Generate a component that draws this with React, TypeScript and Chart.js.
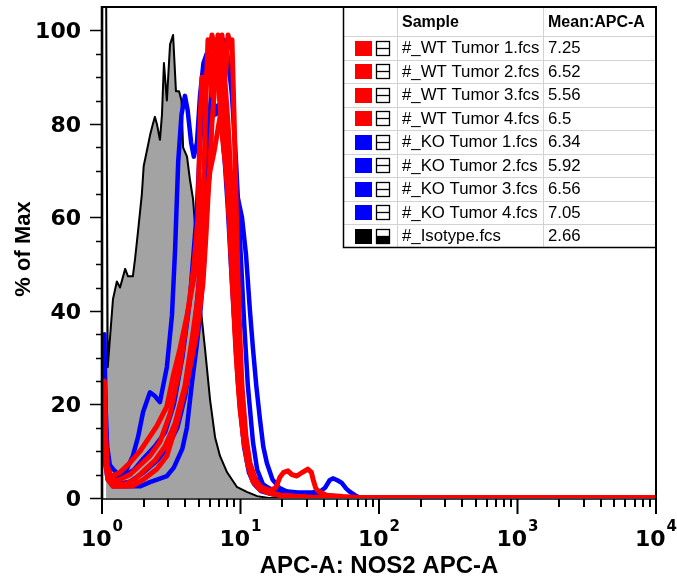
import { useEffect, useRef } from 'react';
import { Chart, registerables } from 'chart.js';

Chart.register(...registerables);

const FONT = '"Liberation Sans", Arial, Helvetica, sans-serif';
const TICKFONT = '"DejaVu Sans", "Liberation Sans", Arial, sans-serif';

// ---------- legend table ----------
const sampleNames = [
  '#_WT Tumor 1.fcs',
  '#_WT Tumor 2.fcs',
  '#_WT Tumor 3.fcs',
  '#_WT Tumor 4.fcs',
  '#_KO Tumor 1.fcs',
  '#_KO Tumor 2.fcs',
  '#_KO Tumor 3.fcs',
  '#_KO Tumor 4.fcs',
  '#_Isotype.fcs',
];
const meanLabels = ['7.25', '6.52', '5.56', '6.5', '6.34', '5.92', '6.56', '7.05', '2.66'];
const headerSample = 'Sample';
const headerMean = 'Mean:APC-A';

// ---------- axes ----------
const yTickValues = [0, 20, 40, 60, 80, 100];
const xDecades = [1, 10, 100, 1000, 10000];
const xDecadeExponents = ['0', '1', '2', '3', '4'];
const xTitle = 'APC-A: NOS2 APC-A';
const yTitle = '% of Max';

// ---------- series (x = APC-A intensity, y = % of max) ----------
const wt1X = [1.04, 1.06, 1.1, 1.2, 1.47, 1.73, 2.04, 2.41, 2.85, 3.37, 3.97, 4.47, 4.93, 5.27, 5.63, 6.03, 6.44, 6.88, 7.35, 7.86, 8.13, 8.4, 8.68, 8.98, 9.28, 9.59, 9.92, 10.25, 10.96, 11.7, 12.9, 14, 16.3, 18, 19.3, 20.5, 22, 23.5, 25.5, 28, 30.6, 32.5, 33.4, 35, 37.5, 42, 55, 80, 10000];
const wt1Y = [22, 9, 5, 3, 3, 4, 6, 8, 11, 16, 24, 34, 43, 55, 63, 70, 74, 79, 84, 92, 99, 97, 98, 82, 64, 47, 34, 24, 13, 7.5, 3.8, 2.4, 1.6, 2.2, 4.5, 5.5, 5.8, 5, 4.7, 5.5, 6.2, 5.5, 4, 2, 1.2, 0.6, 0.3, 0, 0];

const wt2X = [1.04, 1.06, 1.09, 1.15, 1.3, 1.59, 1.88, 2.22, 2.62, 3.1, 3.66, 4.18, 4.62, 4.93, 5.1, 5.27, 5.45, 5.82, 6.22, 6.44, 6.65, 6.88, 7.11, 7.35, 7.6, 7.86, 8.13, 8.4, 8.68, 8.98, 9.28, 9.59, 9.92, 10.6, 11.3, 12.3, 13.8, 16.3, 20, 30, 50, 10000];
const wt2Y = [24, 12, 6, 4, 3.8, 5, 7, 9, 12, 18, 28, 40, 50, 60, 80, 90, 88, 92, 99, 97, 95, 99, 92, 86, 80, 73, 65, 56, 47, 39, 31, 25, 20, 12, 7.5, 4, 2, 1, 0.5, 0.2, 0, 0];

const wt3X = [1.04, 1.06, 1.09, 1.14, 1.2, 1.35, 1.59, 1.88, 2.22, 2.49, 2.94, 3.26, 3.66, 4.11, 4.54, 5.1, 5.45, 5.63, 5.82, 6.03, 6.22, 6.44, 6.65, 6.88, 7.11, 7.35, 7.6, 7.86, 8.13, 8.4, 8.68, 8.98, 9.28, 9.59, 9.92, 10.6, 11.3, 12.3, 13.8, 16.3, 19.3, 25, 35, 10000];
const wt3Y = [25, 14, 7, 5, 4.7, 5.5, 7.5, 10, 13.2, 15.4, 19.6, 26, 32, 39, 46, 53, 70, 85, 98, 96, 86, 92, 97, 90, 84, 78, 74, 70, 64, 57, 50, 40, 32, 25, 19, 12, 7, 3.5, 1.8, 1, 0.6, 0.3, 0, 0];

const wt4X = [1.04, 1.06, 1.1, 1.2, 1.47, 1.67, 2.0, 2.49, 2.94, 3.48, 4.11, 4.85, 5.36, 5.63, 5.82, 6.03, 6.22, 6.44, 6.65, 6.88, 7.11, 7.35, 7.6, 7.86, 8.13, 8.4, 8.68, 8.98, 9.28, 9.59, 9.92, 10.6, 11.3, 12.3, 13.8, 16.3, 19.3, 25, 40, 10000];
const wt4Y = [20, 8, 4, 2.5, 2.5, 2.6, 4, 6.2, 9, 16.2, 24.8, 35.4, 46, 56, 64, 72, 80, 86, 92, 98, 97, 99, 92, 86, 80, 72, 62, 52, 43, 35, 27, 16, 9, 4.5, 2.2, 1.2, 0.6, 0.3, 0, 0];

const ko1X = [1.04, 1.06, 1.09, 1.14, 1.25, 1.4, 1.7, 2.0, 2.4, 2.85, 3.3, 3.8, 4.3, 4.8, 5.1, 5.45, 5.82, 6.2, 6.65, 7.11, 7.6, 8.13, 8.68, 9.28, 9.92, 10.6, 11.3, 12.3, 13.8, 16.3, 20, 26, 33, 38, 40.8, 44, 46.5, 50, 54, 58, 61.8, 67, 72, 100, 10000];
const ko1Y = [30, 15, 8, 5, 4, 4.5, 6, 8.5, 11, 14, 20, 30, 42, 60, 75, 90, 95, 92, 97, 93, 84, 70, 54, 38, 25, 15, 9, 5, 3, 2, 1.5, 1.2, 1.2, 1.5, 2.2, 3.8, 4.2, 3.8, 3.2, 2, 1.3, 0.6, 0.1, 0, 0];

const ko2X = [1.04, 1.06, 1.09, 1.14, 1.2, 1.35, 1.5, 1.67, 1.82, 1.98, 2.22, 2.41, 2.62, 2.94, 3.2, 3.37, 3.55, 3.75, 3.97, 4.15, 4.4, 4.6, 4.85, 5.1, 5.4, 5.7, 6.0, 6.3, 6.6, 6.9, 7.3, 7.7, 8.1, 8.6, 9.2, 9.9, 10.6, 11.5, 12.5, 14, 17, 22, 30, 10000];
const ko2Y = [35, 20, 11, 7, 6.2, 4.7, 6, 9, 13, 18.4, 22.6, 21.8, 20.5, 28, 39, 53, 72, 82, 86, 83, 76, 73, 76, 86, 93, 95, 92, 86, 82, 84, 80, 72, 62, 48, 34, 20, 11, 5.5, 3, 1.5, 0.8, 0.3, 0, 0];

const ko3X = [1.04, 1.06, 1.09, 1.14, 1.3, 1.6, 2.0, 2.5, 3.0, 3.5, 4.0, 4.5, 5.0, 5.45, 5.82, 6.22, 6.65, 7.11, 7.6, 8.13, 8.68, 9.28, 9.92, 10.6, 11.3, 12.3, 13.2, 14.5, 17, 22, 30, 45, 10000];
const ko3Y = [28, 14, 7, 4, 3, 3.5, 5.5, 8, 11, 15, 22, 32, 46, 62, 78, 88, 90, 96, 98, 94, 86, 72, 55, 38, 24, 12, 6, 3, 1.5, 0.8, 0.4, 0, 0];

const ko4X = [1.04, 1.06, 1.1, 1.2, 1.5, 1.9, 2.22, 2.94, 3.3, 3.8, 4.1, 4.47, 4.8, 5.1, 5.45, 5.82, 6.22, 6.65, 7.0, 7.35, 7.6, 7.86, 8.13, 8.4, 8.98, 9.59, 10.25, 10.96, 11.7, 12.3, 13.0, 13.8, 14.6, 15.5, 17, 19, 22, 28, 40, 60, 10000];
const ko4Y = [15, 7, 4, 2.5, 2.5, 2.5, 3.4, 4.7, 6.5, 10.5, 15, 24.8, 32, 39, 50, 65, 82, 95, 97, 85, 74, 72, 71, 70, 67, 64, 60, 52, 40, 32, 24, 17, 11, 7.5, 4, 2.2, 1.3, 0.8, 0.3, 0, 0];

const isoX = [1.07, 1.1, 1.2, 1.28, 1.35, 1.47, 1.54, 1.67, 1.73, 1.82, 1.94, 2.0, 2.1, 2.22, 2.33, 2.41, 2.49, 2.62, 2.71, 2.8, 2.94, 3.1, 3.26, 3.42, 3.6, 3.75, 3.85, 4.11, 4.32, 4.54, 4.85, 5.1, 5.54, 6.03, 6.55, 7.11, 8.0, 9.4, 11.1, 13.2, 16, 10000];
const isoY = [112, 28, 42.5, 46.3, 45, 49, 47.4, 47.4, 51, 57, 65, 71, 74, 77.5, 80, 81.5, 80, 76.6, 82, 93, 85, 97, 99, 87, 87, 85, 75, 73, 68, 64, 53, 42, 32, 21, 13, 9, 5.5, 2.4, 1.3, 0.4, 0, 0];

const RED = '#ff0000';
const BLUE = '#0000ff';
const BLACK = '#000000';
const GRAY = '#a3a3a3';

const seriesX = [wt1X, wt2X, wt3X, wt4X, ko1X, ko2X, ko3X, ko4X, isoX];
const seriesY = [wt1Y, wt2Y, wt3Y, wt4Y, ko1Y, ko2Y, ko3Y, ko4Y, isoY];
const seriesColor = [RED, RED, RED, RED, BLUE, BLUE, BLUE, BLUE, BLACK];

function toPoints(xs: number[], ys: number[]) {
  return xs.map((x, i) => ({ x, y: ys[i] }));
}

const flowPlugin = {
  id: 'flowFrame',
  afterDraw(chart: any) {
    const ctx: CanvasRenderingContext2D = chart.ctx;
    const a = chart.chartArea;
    const xs = chart.scales.x;
    const ys = chart.scales.y;
    ctx.save();

    // ----- legend table -----
    const L = 343;
    const R = a.right;
    const T = a.top;
    const headH = 29;
    const rowH = 23.5;
    const c1 = 397;
    const c2 = 543;
    const n = sampleNames.length;
    const B = T + headH + rowH * n;
    ctx.fillStyle = '#ffffff';
    ctx.fillRect(L, T, R - L, B - T);
    ctx.strokeStyle = '#d2d2d2';
    ctx.lineWidth = 1;
    ctx.beginPath();
    for (let i = 0; i < n; i++) {
      const y = Math.round(T + headH + rowH * i) + 0.5;
      ctx.moveTo(L, y);
      ctx.lineTo(R, y);
    }
    ctx.moveTo(c1 + 0.5, T);
    ctx.lineTo(c1 + 0.5, B);
    ctx.moveTo(c2 + 0.5, T);
    ctx.lineTo(c2 + 0.5, B);
    ctx.stroke();

    ctx.textBaseline = 'middle';
    ctx.textAlign = 'left';
    ctx.fillStyle = '#000';
    ctx.font = `bold 16px ${FONT}`;
    ctx.fillText(headerSample, 402, T + headH / 2 + 1);
    ctx.fillText(headerMean, 548, T + headH / 2 + 1);
    ctx.font = `16.8px ${FONT}`;
    for (let i = 0; i < n; i++) {
      const yc = T + headH + rowH * (i + 0.5);
      const col = seriesColor[i];
      ctx.fillStyle = col;
      ctx.fillRect(355, Math.round(yc - 7), 17, 15);
      ctx.fillStyle = '#fff';
      ctx.fillRect(376, Math.round(yc - 7), 14, 15);
      if (i === n - 1) {
        ctx.fillStyle = '#000';
        ctx.fillRect(376, Math.round(yc), 14, 8);
      }
      ctx.strokeStyle = '#000';
      ctx.lineWidth = 1.3;
      ctx.strokeRect(376.5, Math.round(yc - 7) + 0.5, 13, 14);
      ctx.beginPath();
      ctx.moveTo(376.5, Math.round(yc) + 0.5);
      ctx.lineTo(389.5, Math.round(yc) + 0.5);
      ctx.stroke();
      ctx.fillStyle = '#000';
      ctx.fillText(sampleNames[i], 402, yc + 1);
      ctx.fillText(meanLabels[i], 548, yc + 1);
    }
    ctx.strokeStyle = '#000';
    ctx.lineWidth = 1.5;
    ctx.beginPath();
    ctx.moveTo(L + 0.5, T);
    ctx.lineTo(L + 0.5, B);
    ctx.lineTo(R, B);
    ctx.stroke();

    // ----- frame -----
    ctx.strokeStyle = '#000';
    ctx.lineWidth = 2;
    ctx.beginPath();
    ctx.moveTo(a.right, a.bottom + 1);
    ctx.lineTo(a.right, a.top);
    ctx.lineTo(a.left, a.top);
    ctx.stroke();
    ctx.lineWidth = 2.6;
    ctx.beginPath();
    ctx.moveTo(a.left, a.top - 1);
    ctx.lineTo(a.left, a.bottom + 1);
    ctx.stroke();
    ctx.lineWidth = 1.5;
    ctx.beginPath();
    ctx.moveTo(a.left, a.bottom + 1);
    ctx.lineTo(a.right, a.bottom + 1);
    ctx.stroke();

    // ----- y ticks -----
    ctx.lineWidth = 1.5;
    ctx.beginPath();
    for (let v = 0; v <= 100; v += 5) {
      const y = Math.round(ys.getPixelForValue(v)) + 0.5;
      const len = v % 20 === 0 ? 12 : 6;
      ctx.moveTo(a.left - len, y);
      ctx.lineTo(a.left, y);
    }
    ctx.stroke();
    ctx.font = `bold 22px ${TICKFONT}`;
    ctx.textAlign = 'right';
    ctx.textBaseline = 'middle';
    ctx.fillStyle = '#000';
    yTickValues.forEach((v) => {
      ctx.fillText(String(v), 81, ys.getPixelForValue(v) + 2);
    });

    // ----- x ticks -----
    ctx.lineWidth = 2;
    ctx.beginPath();
    xDecades.forEach((d, k) => {
      const x = xs.getPixelForValue(d);
      ctx.moveTo(x, a.bottom + 1);
      ctx.lineTo(x, a.bottom + 16);
      if (k < xDecades.length - 1) {
        for (let m = 2; m <= 9; m++) {
          const xm = Math.round(xs.getPixelForValue(d * m));
          ctx.moveTo(xm, a.bottom + 1);
          ctx.lineTo(xm, a.bottom + 9);
        }
      }
    });
    ctx.stroke();

    ctx.textBaseline = 'alphabetic';
    ctx.textAlign = 'left';
    xDecades.forEach((d, k) => {
      const x = xs.getPixelForValue(d);
      ctx.font = `bold 22px ${TICKFONT}`;
      const wBase = ctx.measureText('10').width;
      ctx.font = `bold 15px ${TICKFONT}`;
      const wExp = ctx.measureText(xDecadeExponents[k]).width;
      const left = x - (wBase + wExp + 1) / 2;
      ctx.font = `bold 22px ${TICKFONT}`;
      ctx.fillText('10', left, 546);
      ctx.font = `bold 15px ${TICKFONT}`;
      ctx.fillText(xDecadeExponents[k], left + wBase + 1, 531);
    });

    // ----- titles -----
    ctx.font = `bold 24px ${FONT}`;
    ctx.textAlign = 'center';
    ctx.textBaseline = 'alphabetic';
    ctx.fillText(xTitle, (a.left + a.right) / 2, 573);
    ctx.save();
    ctx.translate(30, 249);
    ctx.rotate(-Math.PI / 2);
    ctx.font = `bold 22px ${FONT}`;
    ctx.textBaseline = 'alphabetic';
    ctx.fillText(yTitle, 0, 0);
    ctx.restore();

    ctx.restore();
  },
};

export default function App() {
  const ref = useRef<HTMLCanvasElement | null>(null);
  useEffect(() => {
    if (!ref.current) return;
    const datasets = seriesX.map((xs, i) => {
      const isIso = i === seriesX.length - 1;
      return {
        label: sampleNames[i],
        data: toPoints(xs, seriesY[i]),
        borderColor: seriesColor[i],
        borderWidth: isIso ? 2 : seriesColor[i] === RED ? 5 : 4.5,
        backgroundColor: isIso ? GRAY : 'transparent',
        fill: isIso ? 'origin' : false,
        pointRadius: 0,
        tension: 0,
      };
    });
    const chart = new Chart(ref.current, {
      type: 'line',
      data: { datasets } as any,
      options: {
        animation: false,
        responsive: false,
        layout: { padding: { left: 102, right: 21, top: 7, bottom: 81 } },
        scales: {
          x: { type: 'logarithmic', min: 1, max: 10000, display: false },
          y: { type: 'linear', min: 0, max: 105, display: false },
        },
        plugins: { legend: { display: false }, tooltip: { enabled: false } },
        elements: {
          point: { radius: 0 },
          line: { borderJoinStyle: 'round', borderCapStyle: 'round' },
        },
      } as any,
      plugins: [flowPlugin],
    });
    return () => chart.destroy();
  }, []);
  return (
    <div style={{ position: 'fixed', left: 0, top: 0, width: 677, height: 579, background: '#fff' }}>
      <canvas ref={ref} width={677} height={579} style={{ display: 'block', width: 677, height: 579 }} />
    </div>
  );
}
